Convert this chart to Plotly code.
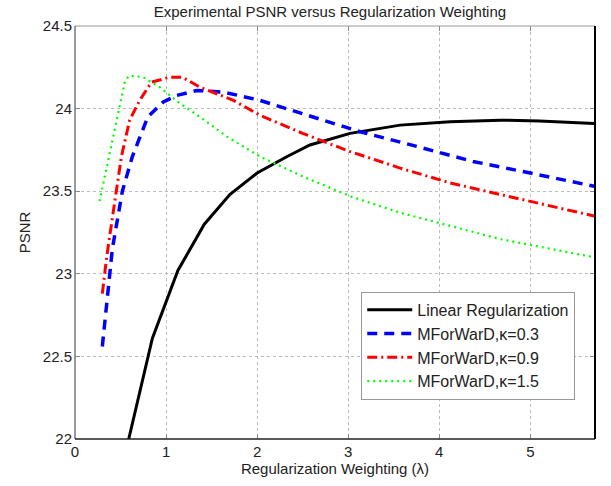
import plotly.graph_objects as go

# Linear Regularization
lin_x = [0.59, 0.85, 1.13, 1.42, 1.70, 2.00, 2.33, 2.58, 3.02, 3.57, 4.12, 4.67, 5.10, 5.70]
lin_y = [22.00, 22.61, 23.02, 23.30, 23.48, 23.61, 23.71, 23.78, 23.85, 23.90, 23.92, 23.93, 23.925, 23.91]

# MForWarD k=0.3
b_x = [0.30, 0.41, 0.52, 0.63, 0.80, 0.97, 1.12, 1.34, 1.63, 2.03, 2.55, 3.13, 3.76, 4.37, 5.00, 5.70]
b_y = [22.56, 23.15, 23.50, 23.71, 23.95, 24.04, 24.08, 24.11, 24.10, 24.05, 23.96, 23.86, 23.77, 23.68, 23.61, 23.53]

# MForWarD k=0.9
r_x = [0.30, 0.35, 0.44, 0.51, 0.60, 0.71, 0.84, 1.04, 1.18, 1.37, 1.74, 2.03, 2.50, 3.02, 3.57, 4.12, 4.67, 5.70]
r_y = [22.88, 23.11, 23.45, 23.71, 23.93, 24.05, 24.16, 24.19, 24.19, 24.13, 24.05, 23.96, 23.85, 23.74, 23.64, 23.55, 23.48, 23.35]

# MForWarD k=1.5
g_x = [0.27, 0.38, 0.46, 0.55, 0.60, 0.75, 0.93, 1.13, 1.37, 1.67, 2.03, 2.50, 3.02, 3.57, 4.12, 4.67, 5.70]
g_y = [23.44, 23.73, 23.95, 24.17, 24.20, 24.19, 24.13, 24.04, 23.95, 23.83, 23.71, 23.59, 23.47, 23.37, 23.29, 23.21, 23.10]

x_ticks = [0, 1, 2, 3, 4, 5]
y_ticks = [22, 22.5, 23, 23.5, 24, 24.5]
y_labels = ["22", "22.5", "23", "23.5", "24", "24.5"]

fig = go.Figure()
fig.add_trace(go.Scatter(x=lin_x, y=lin_y, mode="lines", name="Linear Regularization",
                         line=dict(color="#000000", width=3)))
fig.add_trace(go.Scatter(x=b_x, y=b_y, mode="lines", name="MForWarD,\u03ba=0.3",
                         line=dict(color="#0000FF", width=3.5, dash="10px,7px")))
fig.add_trace(go.Scatter(x=r_x, y=r_y, mode="lines", name="MForWarD,\u03ba=0.9",
                         line=dict(color="#FF0000", width=3, dash="10px,4px,2px,4px")))
fig.add_trace(go.Scatter(x=g_x, y=g_y, mode="lines", name="MForWarD,\u03ba=1.5",
                         line=dict(color="#00FF00", width=2.2, dash="2px,4px")))

font = "Liberation Sans, Arial, sans-serif"
fig.update_layout(
    width=611, height=486,
    margin=dict(l=75, r=16, t=26, b=47),
    paper_bgcolor="white", plot_bgcolor="white",
    font=dict(family=font, size=15, color="#222"),
    title=dict(text="Experimental PSNR versus Regularization Weighting", x=0.54, xanchor="center",
               y=0.975, yanchor="middle", pad=dict(t=0, b=0), font=dict(size=15, family=font, color="#222")),
    showlegend=True,
    legend=dict(x=0.962, xanchor="right", y=0.095, yanchor="bottom",
                bgcolor="white", bordercolor="#999", borderwidth=1,
                font=dict(size=16, family=font, color="#222"),
                itemwidth=45),
    xaxis=dict(range=[0, 5.71], tickvals=x_ticks, ticks="inside", ticklen=5, tickcolor="#888",
               showgrid=True, gridcolor="#bbb", griddash="dot", gridwidth=1,
               showline=False, zeroline=False, mirror="ticks", ticklabelstandoff=2,
               title=dict(text="Regularization Weighting (\u03bb)", standoff=2, font=dict(size=15))),
    yaxis=dict(range=[22, 24.5], tickvals=y_ticks, ticktext=y_labels, ticks="inside", ticklen=5, tickcolor="#888",
               showgrid=True, gridcolor="#bbb", griddash="dot", gridwidth=1,
               showline=False, zeroline=False, mirror="ticks", ticklabelstandoff=2,
               title=dict(text="PSNR", standoff=8, font=dict(size=15))),
)

# axis box
fig.add_shape(type="line", xref="paper", yref="paper", x0=0, x1=1, y0=1, y1=1, line=dict(color="#999", width=1))
fig.add_shape(type="line", xref="paper", yref="paper", x0=0, x1=0, y0=0, y1=1, line=dict(color="#777", width=1.5))
fig.add_shape(type="line", xref="paper", yref="paper", x0=0, x1=1, y0=0, y1=0, line=dict(color="#222", width=1.5))
fig.add_shape(type="line", xref="paper", yref="paper", x0=1, x1=1, y0=0, y1=1, line=dict(color="#000", width=2))

fig.write_html("out.html", config={"displayModeBar": False},
               post_script="document.body.style.margin='0px';document.body.style.overflow='hidden';")
